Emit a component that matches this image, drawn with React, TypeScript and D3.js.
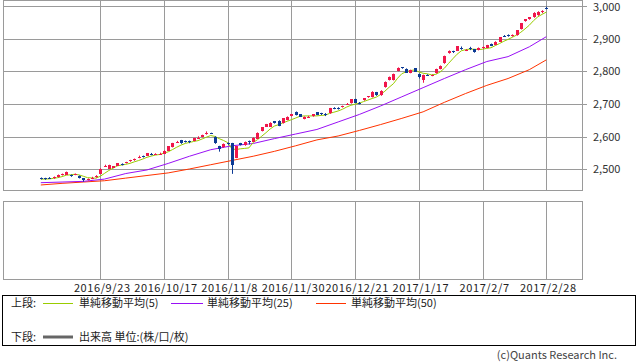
import React from 'react';
import * as d3 from 'd3';

// daily candles (120 trading days, 2016/9/2 .. 2017/2/28)
const opens = [
  2474, 2473, 2473, 2472, 2476, 2482, 2484, 2483, 2483, 2480,
  2472, 2468, 2472, 2475, 2486, 2509, 2502, 2505, 2511, 2517,
  2519, 2524, 2527, 2537, 2541, 2542, 2547, 2545, 2546, 2548,
  2557, 2568, 2583, 2589, 2587, 2586, 2587, 2596, 2599, 2609,
  2611, 2600, 2571, 2567, 2579, 2580, 2535, 2580, 2573, 2586,
  2585, 2594, 2617, 2631, 2631, 2647, 2649, 2641, 2651, 2663,
  2676, 2668, 2654, 2660, 2662, 2674, 2671, 2669, 2671, 2687,
  2687, 2690, 2699, 2702, 2715, 2703, 2711, 2720, 2721, 2736,
  2726, 2751, 2773, 2773, 2801, 2812, 2808, 2795, 2809, 2792,
  2773, 2790, 2786, 2794, 2807, 2824, 2855, 2861, 2863, 2871,
  2864, 2871, 2867, 2865, 2871, 2872, 2884, 2881, 2891, 2909,
  2911, 2909, 2910, 2929, 2953, 2959, 2965, 2971, 2984, 2994,
];
const closes = [
  2470, 2470, 2472, 2477, 2483, 2486, 2492, 2478, 2485, 2473,
  2466, 2470, 2474, 2481, 2502, 2511, 2513, 2509, 2518, 2514,
  2522, 2528, 2532, 2538, 2537, 2549, 2546, 2548, 2547, 2557,
  2570, 2580, 2584, 2579, 2583, 2585, 2595, 2597, 2605, 2610,
  2610, 2581, 2563, 2578, 2577, 2514, 2570, 2575, 2584, 2585,
  2597, 2612, 2628, 2638, 2643, 2641, 2634, 2656, 2661, 2668,
  2666, 2661, 2661, 2661, 2668, 2667, 2668, 2666, 2687, 2686,
  2686, 2694, 2700, 2714, 2704, 2702, 2717, 2723, 2738, 2726,
  2741, 2768, 2783, 2792, 2811, 2810, 2796, 2804, 2799, 2782,
  2789, 2788, 2788, 2807, 2817, 2847, 2863, 2859, 2876, 2869,
  2866, 2869, 2858, 2872, 2873, 2880, 2878, 2891, 2904, 2907,
  2909, 2910, 2925, 2947, 2959, 2965, 2980, 2983, 2985, 2993,
];
const highs = [
  2475, 2474, 2476, 2478, 2484, 2487, 2493, 2484, 2487, 2481,
  2473, 2472, 2477, 2482, 2503, 2514, 2514, 2510, 2519, 2518,
  2523, 2529, 2533, 2542, 2542, 2550, 2550, 2549, 2551, 2558,
  2571, 2581, 2587, 2590, 2588, 2588, 2596, 2601, 2606, 2616,
  2612, 2601, 2572, 2579, 2582, 2581, 2571, 2581, 2585, 2588,
  2598, 2613, 2629, 2639, 2644, 2648, 2650, 2657, 2662, 2669,
  2677, 2669, 2662, 2664, 2669, 2675, 2673, 2672, 2688, 2690,
  2690, 2695, 2703, 2715, 2716, 2706, 2718, 2724, 2739, 2737,
  2742, 2769, 2784, 2793, 2812, 2813, 2809, 2805, 2810, 2793,
  2790, 2791, 2790, 2808, 2818, 2848, 2864, 2863, 2877, 2876,
  2868, 2875, 2868, 2873, 2876, 2881, 2885, 2892, 2905, 2911,
  2913, 2913, 2926, 2948, 2960, 2966, 2981, 2984, 2987, 2998,
];
const lows = [
  2469, 2468, 2471, 2471, 2475, 2481, 2483, 2477, 2482, 2472,
  2462, 2466, 2470, 2474, 2485, 2507, 2501, 2504, 2510, 2512,
  2518, 2523, 2526, 2534, 2536, 2541, 2543, 2544, 2544, 2547,
  2556, 2567, 2581, 2578, 2582, 2580, 2586, 2594, 2598, 2606,
  2608, 2578, 2554, 2566, 2575, 2486, 2534, 2573, 2572, 2576,
  2584, 2593, 2616, 2630, 2630, 2640, 2632, 2640, 2650, 2662,
  2665, 2660, 2653, 2657, 2661, 2666, 2666, 2663, 2670, 2684,
  2683, 2689, 2697, 2701, 2703, 2699, 2710, 2719, 2720, 2725,
  2725, 2750, 2772, 2772, 2800, 2808, 2795, 2794, 2798, 2778,
  2765, 2786, 2785, 2793, 2806, 2823, 2854, 2856, 2862, 2866,
  2862, 2865, 2857, 2864, 2869, 2871, 2877, 2880, 2890, 2905,
  2906, 2906, 2909, 2928, 2952, 2958, 2964, 2970, 2978, 2990,
];

// moving averages 25 / 50, read every 5th day
const maIndex = [0, 5, 10, 15, 20, 25, 30, 35, 40, 45, 50, 55, 60, 65, 70, 75, 80, 85, 90, 95, 100, 105, 110, 115, 119];
const ma25 = [
  2459, 2461, 2463, 2470, 2487, 2498, 2518, 2540, 2560, 2572,
  2579, 2594, 2608, 2622, 2645, 2668, 2694, 2722, 2750, 2778,
  2805, 2830, 2845, 2875, 2906,
];
const ma50 = [
  2452, 2457, 2461, 2465, 2473, 2481, 2489, 2501, 2514, 2527,
  2540, 2555, 2572, 2590, 2602, 2619, 2637, 2656, 2676, 2705,
  2732, 2757, 2778, 2805, 2835,
];

const tickIndex = [14, 29, 44, 59, 74, 89, 104, 119];
const tickLabels = ['2016/9/23', '2016/10/17', '2016/11/8', '2016/11/30', '2016/12/21', '2017/1/17', '2017/2/7', '2017/2/28'];
const priceTicks = [2500, 2600, 2700, 2800, 2900, 3000];

const FONT = "'Noto Sans CJK JP', 'Noto Sans', sans-serif";
const UP = '#f0164a';
const DOWN = '#0c3a94';
const GRID = '#9a9a9a';

const App = () => {
  const x = d3.scaleLinear().domain([0, 119]).range([40.8, 546.3]);
  const y = d3.scaleLinear().domain([2500, 3000]).range([169.3, 6]);

  // 5-day average from the closes
  const ma5 = closes.map((_, i) => d3.mean(closes.slice(Math.max(0, i - 4), i + 1)) as number);

  const line = d3.line<[number, number]>().x(d => x(d[0])).y(d => y(d[1]));
  const ma5Path = line(ma5.map((v, i) => [i, v]));
  const ma25Path = line(ma25.map((v, k) => [maIndex[k], v]));
  const ma50Path = line(ma50.map((v, k) => [maIndex[k], v]));

  const px = (v: number) => Math.round(v) + 0.5;

  return (
    <svg width={638} height={362} style={{ position: 'absolute', left: 0, top: 0, fontFamily: FONT }}>
      <rect width={638} height={362} fill="#fff" />

      {/* upper panel grid */}
      {priceTicks.map(v => (
        <g key={v}>
          <line x1={3.5} x2={587} y1={px(y(v))} y2={px(y(v))} stroke={GRID} />
          <text x={593} y={Math.max(px(y(v)), 7)} dy="0.36em" fontSize={11} fill="#333">{d3.format(',')(v)}</text>
        </g>
      ))}
      {tickIndex.map(i => (
        <g key={i}>
          <line x1={px(x(i))} x2={px(x(i))} y1={0.5} y2={190.5} stroke={GRID} />
          <line x1={px(x(i))} x2={px(x(i))} y1={201.5} y2={279.5} stroke={GRID} />
        </g>
      ))}
      <rect x={3.5} y={0.5} width={579} height={190} fill="none" stroke={GRID} />
      <rect x={3.5} y={201.5} width={579} height={78} fill="none" stroke={GRID} />

      {/* moving averages */}
      <path d={ma50Path ?? ''} fill="none" stroke="#ff3300" strokeWidth={1} />
      <path d={ma25Path ?? ''} fill="none" stroke="#9910f5" strokeWidth={1} />
      <path d={ma5Path ?? ''} fill="none" stroke="#99cc00" strokeWidth={1} />

      {/* candles */}
      {closes.map((c, i) => {
        const o = opens[i];
        const col = c >= o ? UP : DOWN;
        const cx = Math.round(x(i));
        const top = Math.round(y(Math.max(o, c)));
        const bot = Math.round(y(Math.min(o, c)));
        return (
          <g key={i}>
            <line x1={cx + 0.5} x2={cx + 0.5} y1={y(highs[i])} y2={y(lows[i])} stroke={col} />
            <rect x={cx - 1} y={top} width={3} height={Math.max(1, bot - top)} fill={col} />
          </g>
        );
      })}

      {/* date labels */}
      {tickIndex.map((i, k) => (
        <text key={i} x={x(i) + 2} y={292} textAnchor="middle" fontSize={11} letterSpacing={0.6} fill="#222">
          {tickLabels[k]}
        </text>
      ))}

      {/* legend */}
      <rect x={2.5} y={295.5} width={633} height={50} fill="none" stroke="#000" />
      <g fontSize={11} fill="#222">
        <text x={11} y={303.5} dy="0.36em">上段:</text>
        <line x1={43} x2={73} y1={303.5} y2={303.5} stroke="#99cc00" />
        <text x={79} y={303.5} dy="0.36em">単純移動平均(5)</text>
        <line x1={171} x2={203} y1={303.5} y2={303.5} stroke="#9910f5" />
        <text x={207} y={303.5} dy="0.36em">単純移動平均(25)</text>
        <line x1={316} x2={346} y1={303.5} y2={303.5} stroke="#ff3300" />
        <text x={351} y={303.5} dy="0.36em">単純移動平均(50)</text>

        <text x={11} y={337} dy="0.36em">下段:</text>
        <line x1={43} x2={73} y1={337} y2={337} stroke="#666" strokeWidth={3} />
        <text x={79} y={337} dy="0.36em">出来高 単位:(株/口/枚)</text>
      </g>
      <text x={617} y={355} dy="0.36em" textAnchor="end" fontSize={11} fill="#444">(c)Quants Research Inc.</text>
    </svg>
  );
};

export default App;
